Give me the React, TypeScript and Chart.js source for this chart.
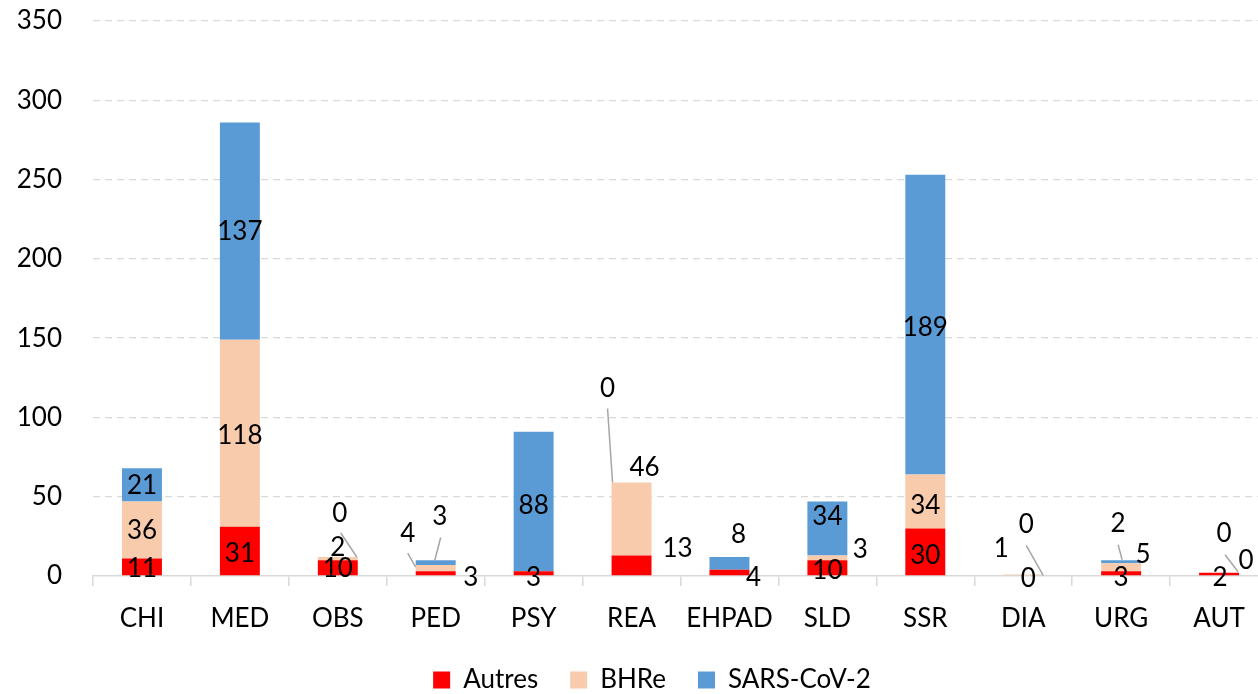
import { useEffect, useRef } from "react";
import { Chart, registerables } from "chart.js";

Chart.register(...registerables);

const CATEGORIES = ["CHI", "MED", "OBS", "PED", "PSY", "REA", "EHPAD", "SLD", "SSR", "DIA", "URG", "AUT"];
const SERIES_NAMES = ["Autres", "BHRe", "SARS-CoV-2"];
const AUTRES = [11, 31, 10, 3, 3, 13, 4, 10, 30, 0, 3, 2];
const BHRE = [36, 118, 2, 4, 0, 46, 0, 3, 34, 1, 5, 0];
const SARS = [21, 137, 0, 3, 88, 0, 8, 34, 189, 0, 2, 0];
const Y_MIN = 0;
const Y_MAX = 350;
const Y_STEP = 50;

// label offsets (px) from each segment's centre; null = label hidden
const AUTRES_LABEL_OFFSETS: ([number, number] | null)[] = [
  [0, 1], [0, 2], [0, 0], [35, 3], [0, 3], [46, -18], [24, 4], [0, 2], [0, 3], [5, 2], [0, 3], [1, 3],
];
const BHRE_LABEL_OFFSETS: ([number, number] | null)[] = [
  [0, 0], [0, 1], [0, -12], [-28, -35], null, [13, -52], null, [33, -9], [0, 3], [-22, -27], [22, -14], [27, -13],
];
const SARS_LABEL_OFFSETS: ([number, number] | null)[] = [
  [0, 0], [0, 0], [2, -44], [4, -47], [0, 3], [-24, -95], [9, -30], [0, -13], [0, 2], [3, -51], [-3, -39], [5, -40],
];
// leader lines: series, index, start offset from label, end offset from segment centre
const LEADERS: { s: number; i: number; start: [number, number]; end: [number, number] }[] = [
  { s: 2, i: 2, start: [1, 20], end: [19, 0] },
  { s: 1, i: 3, start: [0, 20], end: [-20, -1] },
  { s: 2, i: 3, start: [1, 22], end: [-1, -2] },
  { s: 2, i: 5, start: [0, 21], end: [-19, 0] },
  { s: 2, i: 9, start: [0, 22], end: [20, 1] },
  { s: 2, i: 10, start: [0, 22], end: [1, -2] },
  { s: 2, i: 11, start: [1, 22], end: [19, -1] },
];

const COLORS = ["#FF0000", "#F8CBAD", "#5B9BD5"];
const FONT = "Lato, 'Open Sans', sans-serif";
const FONT_SIZE = 26;

const OFFSETS = [AUTRES_LABEL_OFFSETS, BHRE_LABEL_OFFSETS, SARS_LABEL_OFFSETS];

const labelPlugin = {
  id: "segmentLabels",
  afterLayout(chart: any) {
    // centre the legend under the whole (uncropped) chart
    if (chart.legend) {
      chart.legend.left += 18;
      chart.legend.right += 18;
    }
  },
  afterDatasetsDraw(chart: any) {
    const ctx = chart.ctx as CanvasRenderingContext2D;
    ctx.save();
    const seg = (s: number, i: number) => {
      const bar = chart.getDatasetMeta(s).data[i];
      const p = bar.getProps(["x", "y", "base"], true);
      return { x: p.x, y: (p.y + p.base) / 2 };
    };
    ctx.strokeStyle = "#A6A6A6";
    ctx.lineWidth = 1.5;
    LEADERS.forEach((l) => {
      const off = OFFSETS[l.s][l.i];
      if (!off) return;
      const c = seg(l.s, l.i);
      const lx = c.x + off[0];
      const ly = c.y + off[1];
      ctx.beginPath();
      ctx.moveTo(lx + l.start[0], ly + l.start[1]);
      ctx.lineTo(c.x + l.end[0], c.y + l.end[1]);
      ctx.stroke();
    });
    ctx.fillStyle = "#000";
    ctx.font = `${FONT_SIZE}px ${FONT}`;
    ctx.textAlign = "center";
    ctx.textBaseline = "middle";
    chart.data.datasets.forEach((ds: any, s: number) => {
      ds.data.forEach((v: number, i: number) => {
        const off = OFFSETS[s][i];
        if (!off) return;
        const c = seg(s, i);
        ctx.fillText(String(v), c.x + off[0], c.y + off[1] + 1);
      });
    });
    ctx.restore();
  },
};

export default function App() {
  const ref = useRef<HTMLCanvasElement>(null);
  useEffect(() => {
    if (!ref.current) return;
    const chart = new Chart(ref.current, {
      type: "bar",
      data: {
        labels: CATEGORIES,
        datasets: [AUTRES, BHRE, SARS].map((d, k) => ({
          label: SERIES_NAMES[k],
          data: d,
          backgroundColor: COLORS[k],
          borderWidth: 0,
          barPercentage: 0.408,
          categoryPercentage: 1,
        })),
      },
      options: {
        animation: false,
        responsive: false,
        layout: { padding: { left: 0, right: 36, top: 21, bottom: -9 } },
        plugins: {
          tooltip: { enabled: false },
          legend: {
            position: "bottom",
            labels: {
              boxWidth: 17,
              boxHeight: 17,
              padding: 32,
              color: "#000",
              font: { family: FONT, size: FONT_SIZE },
            },
          },
        },
        scales: {
          x: {
            stacked: true,
            afterFit: (scale: any) => {
              scale.height = 59;
            },
            grid: {
              offset: true,
              drawOnChartArea: false,
              drawTicks: true,
              tickLength: 10,
              color: "#D9D9D9",
              lineWidth: 1.5,
            },
            border: { color: "#D9D9D9", width: 1.5 },
            ticks: {
              color: "#000",
              padding: 17,
              font: { family: FONT, size: FONT_SIZE },
            },
          },
          y: {
            stacked: true,
            min: Y_MIN,
            max: Y_MAX,
            afterFit: (scale: any) => {
              scale.width = 93;
            },
            grid: {
              drawTicks: true,
              tickLength: 27,
              tickColor: "rgba(0,0,0,0)",
              color: (c: any) => (c.tick && c.tick.value === 0 ? "rgba(0,0,0,0)" : "#D9D9D9"),
              lineWidth: 1.3,
            },
            border: { display: false, dash: [7, 5] },
            ticks: {
              stepSize: Y_STEP,
              color: "#000",
              padding: 4,
              font: { family: FONT, size: FONT_SIZE },
            },
          },
        },
      },
      plugins: [labelPlugin],
    });
    return () => chart.destroy();
  }, []);

  return (
    <div style={{ position: "fixed", left: 0, top: 0, width: 1258, height: 694, overflow: "hidden", background: "#fff" }}>
      <canvas ref={ref} width={1304} height={694} style={{ display: "block", width: 1304, height: 694 }} />
    </div>
  );
}
